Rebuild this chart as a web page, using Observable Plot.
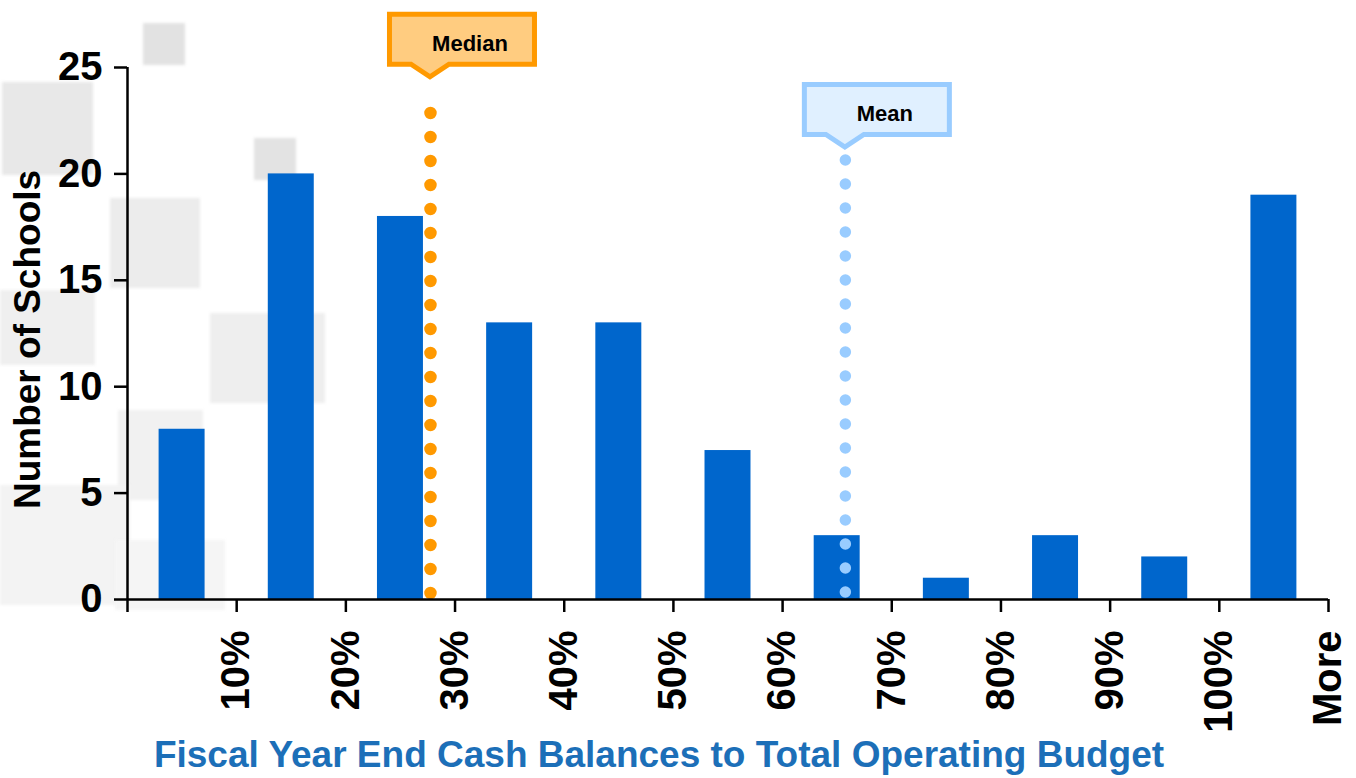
<!DOCTYPE html>
<html>
<head>
<meta charset="utf-8">
<script src="https://cdn.jsdelivr.net/npm/d3@7"></script>
<script src="https://cdn.jsdelivr.net/npm/@observablehq/plot@0.6"></script>
<style>
  body { margin: 0; background: #fff; }
  #wrap { position: relative; width: 1356px; height: 778px; overflow: hidden; background: #fff; }
  .sq { position: absolute; filter: blur(1.5px); }
  #chart { position: absolute; left: 0; top: 0; }
</style>
</head>
<body>
<div id="wrap">
  <div class="sq" style="left:143px;top:23px;width:42px;height:42px;background:#e2e2e2"></div>
  <div class="sq" style="left:2px;top:82px;width:91px;height:93px;background:#e8e8e8"></div>
  <div class="sq" style="left:254px;top:138px;width:42px;height:42px;background:#e3e3e3"></div>
  <div class="sq" style="left:110px;top:198px;width:90px;height:90px;background:#ececec"></div>
  <div class="sq" style="left:0px;top:290px;width:95px;height:75px;background:#efefef"></div>
  <div class="sq" style="left:210px;top:313px;width:115px;height:90px;background:#eeeeee"></div>
  <div class="sq" style="left:118px;top:410px;width:85px;height:90px;background:#f1f1f1"></div>
  <div class="sq" style="left:0px;top:485px;width:130px;height:120px;background:#f3f3f3"></div>
  <div class="sq" style="left:115px;top:540px;width:110px;height:70px;background:#f5f5f5"></div>
  <div id="chart"></div>
</div>
<script>
// ---- data ----
const binStarts = [0, 10, 20, 30, 40, 50, 60, 70, 80, 90, 100];
const binEnds   = [10, 20, 30, 40, 50, 60, 70, 80, 90, 100, 110];
const counts    = [8, 20, 18, 13, 13, 7, 3, 1, 3, 2, 19];
const tickValues = [0, 10, 20, 30, 40, 50, 60, 70, 80, 90, 100, 110];
const tickLabels = ["", "10%", "20%", "30%", "40%", "50%", "60%", "70%", "80%", "90%", "100%", "More"];
const yTicks = [0, 5, 10, 15, 20, 25];
const statNames  = ["Median", "Mean"];
const statValues = [27.75, 65.75];
const dotTops    = [22.84, 20.63];
const dotBottoms = [0.2, 0.2];
const calloutTips = [24.4, 21.1];
const yTitle = "Number of Schools";
const xTitle = "Fiscal Year End Cash Balances to Total Operating Budget";

const bins = binStarts.map((s, i) => ({lo: s, hi: binEnds[i], count: counts[i]}));
const stats = statNames.map((n, i) => ({name: n, value: statValues[i], top: dotTops[i], bottom: dotBottoms[i], tip: calloutTips[i]}));

const statStroke = {Median: "#FF9900", Mean: "#99CCFF"};
const statFill = {Median: "#FFCC80", Mean: "#E0F0FF"};

function callouts(index, scales, values, dims) {
  const g = d3.create("svg:g");
  stats.forEach(s => {
    const px = scales.x(s.value);
    const tip = scales.y(s.tip);
    const sw = 5, h = sw / 2;
    const L = px - 43 + h, R = px + 107 - h;
    const Bb = tip - 13 - h, T = tip - 13 - 55 + h;
    g.append("path")
      .attr("d", `M${L},${T}H${R}V${Bb}H${px + 19}L${px},${tip - 3}L${px - 19},${Bb}H${L}Z`)
      .attr("fill", statFill[s.name])
      .attr("stroke", statStroke[s.name])
      .attr("stroke-width", sw)
      .attr("stroke-linejoin", "miter");
    g.append("text")
      .attr("x", px + 40)
      .attr("y", tip - 29)
      .attr("text-anchor", "middle")
      .attr("font-size", 22)
      .attr("font-weight", "bold")
      .attr("fill", "#000")
      .text(s.name);
  });
  return g.node();
}

const plot = Plot.plot({
  width: 1356,
  height: 778,
  marginLeft: 127,
  marginRight: 28,
  marginTop: 67,
  marginBottom: 179,
  style: {fontFamily: "'Liberation Sans', Arial, Helvetica, sans-serif", fontWeight: "bold", background: "transparent", color: "#000"},
  x: {domain: [0, 110]},
  y: {domain: [0, 25]},
  marks: [
    Plot.rectY(bins, {x1: "lo", x2: "hi", y: "count", fill: "#0066CC", insetLeft: 31.6, insetRight: 31.6}),
    Plot.ruleX(stats.filter(d => d.name === "Median"), {x: "value", y1: "top", y2: "bottom", stroke: "#FF9900", strokeWidth: 12.5, strokeDasharray: "0,24", strokeLinecap: "round"}),
    Plot.ruleX(stats.filter(d => d.name === "Mean"), {x: "value", y1: "top", y2: "bottom", stroke: "#99CCFF", strokeWidth: 11.5, strokeDasharray: "0,24", strokeLinecap: "round"}),
    Plot.ruleX([0], {y1: 0, y2: 25, stroke: "#000", strokeWidth: 2.5}),
    Plot.ruleY([0], {x1: 0, x2: 110, stroke: "#000", strokeWidth: 2.5}),
    Plot.axisY({ticks: yTicks, tickSize: 13, tickPadding: 12, fontSize: 40, strokeWidth: 2.5, label: null, tickFormat: d => String(d)}),
    Plot.axisX({ticks: tickValues, tickSize: 13, tickPadding: 18, fontSize: 40, strokeWidth: 2.5, label: null, tickRotate: -90,
      tickFormat: d => tickLabels[tickValues.indexOf(d)]}),
    Plot.text([yTitle], {frameAnchor: "left", text: d => d, rotate: -90, dx: -99, dy: 6, fontSize: 37, fontWeight: "bold", fill: "#000", textAnchor: "middle", lineAnchor: "middle"}),
    Plot.text([xTitle], {frameAnchor: "bottom", text: d => d, dx: -69, dy: 156, fontSize: 37, fontWeight: "bold", fill: "#1C6FB8", textAnchor: "middle", lineAnchor: "middle"}),
    callouts
  ]
});
document.getElementById("chart").appendChild(plot);
</script>
</body>
</html>
